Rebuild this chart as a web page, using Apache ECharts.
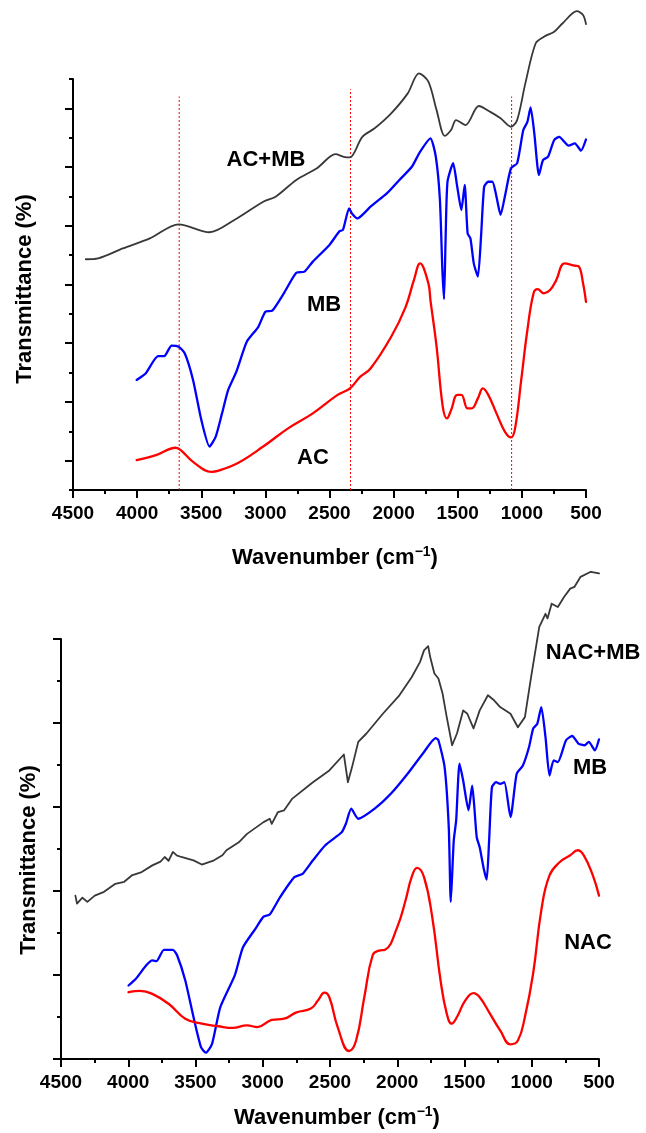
<!DOCTYPE html>
<html>
<head>
<meta charset="utf-8">
<script src="https://cdn.jsdelivr.net/npm/echarts@6/dist/echarts.min.js"></script>
<style>
html,body{margin:0;padding:0;background:#fff;}
#c{width:646px;height:1133px;}
</style>
</head>
<body>
<div id="c"></div>
<script>
// ---------- DATA (wavenumber in cm-1, transmittance in arbitrary offset units) ----------
const xTicks = [4500, 4000, 3500, 3000, 2500, 2000, 1500, 1000, 500];

// Top panel
const acmbTopWn = [4400,4304,4111,3901,3676,3435,3242,3016,2920,2759,2598,2453,2389,2341,2244,2148,2019,1890,1803,1729,1665,1601,1552,1513,1439,1336,1246,1166,1085,1037,973,893,828,748,684,571,523,500];
const acmbTopT  = [7.86,7.89,8.23,8.57,9.05,8.78,9.20,9.82,9.99,10.56,10.96,11.44,11.35,11.33,12.03,12.32,12.83,13.51,14.19,13.91,12.94,12.06,12.26,12.60,12.43,13.08,12.88,12.66,12.37,12.60,13.85,15.21,15.44,15.61,15.89,16.31,16.18,15.87];

const mbTopWn = [4004,3934,3837,3789,3731,3676,3628,3564,3499,3435,3387,3338,3290,3226,3145,3055,3000,2946,2856,2759,2695,2630,2502,2421,2395,2347,2325,2283,2180,2051,1955,1858,1794,1713,1671,1639,1620,1607,1595,1580,1536,1504,1472,1446,1423,1401,1375,1343,1317,1294,1262,1230,1198,1166,1133,1085,1037,989,957,932,903,867,835,796,748,709,635,587,539,500];
const mbTopT  = [3.75,3.97,4.56,4.56,4.92,4.88,4.65,3.75,2.38,1.48,1.82,2.61,3.41,4.03,5.05,5.56,6.07,6.11,6.70,7.40,7.44,7.78,8.34,8.82,8.86,9.59,9.42,9.25,9.65,10.11,10.56,11.01,11.52,11.98,11.35,9.88,7.5,6.5,8.5,10.5,11.13,10.33,9.54,10.39,8.74,8.57,7.72,7.27,8.74,10.33,10.50,10.50,9.99,9.37,9.99,10.96,11.13,12.26,12.54,13.03,12.15,10.73,11.24,11.35,11.92,12.03,11.73,11.81,11.56,11.94];

const acTopWn = [4004,3853,3699,3660,3564,3419,3371,3210,3017,2823,2630,2437,2341,2260,2180,2019,1906,1842,1794,1729,1713,1665,1617,1584,1552,1504,1472,1423,1391,1343,1304,1262,1198,1133,1085,1053,1005,957,909,877,828,780,732,668,587,555,523,500];
const acTopT  = [1.02,1.19,1.44,1.36,0.96,0.62,0.65,0.93,1.48,2.10,2.61,3.24,3.46,3.86,4.14,5.22,6.24,7.15,7.72,7.04,6.47,4.88,2.84,2.44,2.72,3.24,3.24,2.78,2.78,3.12,3.46,3.24,2.61,1.99,1.79,2.10,3.75,5.45,6.70,6.84,6.70,6.81,7.15,7.72,7.64,7.61,7.04,6.41];

// dotted reference lines (top panel)
const refLineWn  = [3672, 2336, 1080];
const refLineTop = [13.4, 13.65, 13.4];

// Bottom panel
const nacmbWn = [4393,4381,4341,4304,4249,4180,4096,4030,3974,3900,3821,3760,3729,3700,3668,3640,3606,3515,3453,3362,3300,3270,3178,3117,2994,2948,2933,2887,2841,2780,2627,2505,2397,2367,2336,2290,2229,2107,1984,1893,1831,1801,1770,1755,1724,1694,1663,1632,1592,1556,1510,1479,1433,1387,1326,1280,1235,1158,1103,1051,1005,944,898,883,852,806,760,714,683,637,561,500];
const nacmbT  = [3.89,3.70,3.84,3.74,3.89,3.98,4.17,4.22,4.37,4.45,4.61,4.70,4.81,4.72,4.93,4.85,4.81,4.73,4.63,4.73,4.85,4.97,5.16,5.36,5.64,5.72,5.60,5.88,5.92,6.20,6.59,6.87,7.25,6.59,6.95,7.55,7.75,8.22,8.66,9.09,9.45,9.73,9.83,9.57,9.18,9.06,8.70,8.14,7.47,7.75,8.30,8.22,7.87,8.30,8.66,8.54,8.38,8.22,7.90,8.14,9.09,10.29,10.60,10.49,10.84,10.76,11.00,11.20,11.24,11.48,11.60,11.56];

const mbBotWn = [3998,3943,3866,3821,3790,3735,3668,3637,3576,3515,3459,3423,3377,3316,3208,3147,3055,2994,2948,2872,2765,2704,2627,2535,2413,2382,2342,2290,2168,2046,1923,1801,1715,1694,1648,1617,1602,1580,1562,1537,1510,1470,1443,1427,1409,1387,1357,1335,1317,1296,1265,1235,1204,1158,1112,1066,1020,989,959,929,898,868,837,806,745,699,653,607,576,531,500];
const mbBotT  = [1.75,1.91,2.23,2.35,2.33,2.60,2.60,2.47,1.87,1.00,0.28,0.15,0.36,1.23,1.99,2.66,3.10,3.39,3.44,3.85,4.33,4.41,4.73,5.09,5.40,5.60,5.96,5.72,5.96,6.32,6.79,7.31,7.64,7.59,6.95,5.52,3.74,5.20,5.68,7.03,6.63,5.92,6.51,6.00,5.28,5.04,4.53,4.27,5.20,6.47,6.59,6.55,6.59,5.76,6.79,6.99,7.43,7.87,7.98,8.38,7.67,6.75,7.11,7.07,7.59,7.69,7.51,7.47,7.55,7.35,7.61];

const nacWn = [3998,3912,3821,3698,3576,3453,3331,3224,3117,3040,2933,2841,2749,2642,2590,2541,2505,2443,2358,2306,2245,2183,2137,2091,2000,1938,1893,1853,1801,1740,1678,1632,1595,1556,1495,1433,1387,1311,1235,1158,1103,1051,990,929,868,791,714,659,613,546,500];
const nacT  = [1.59,1.62,1.55,1.31,0.96,0.84,0.78,0.74,0.80,0.76,0.93,0.96,1.11,1.20,1.39,1.58,1.47,0.76,0.19,0.44,1.47,2.47,2.58,2.60,3.14,3.78,4.33,4.55,4.33,3.38,1.87,1.08,0.84,1.00,1.39,1.57,1.47,1.08,0.68,0.35,0.44,1.00,2.03,3.54,4.37,4.69,4.85,4.97,4.85,4.37,3.89];

// ---------- CHART ----------
const zip = (a, b) => a.map((v, i) => [v, b[i]]);
const FONT = '"Liberation Sans", Arial, sans-serif';
const GRAY = '#383838', BLUE = '#0000ff', RED = '#ff0000';

const chart = echarts.init(document.getElementById('c'), null, {renderer: 'canvas'});

function xAxisFor(grid) {
  return {
    type: 'value', gridIndex: grid, inverse: true, min: 500, max: 4500, interval: 500,
    axisLine: {show: true, onZero: false, lineStyle: {color: '#000', width: 2}},
    axisTick: {show: true, inside: false, length: 8, lineStyle: {color: '#000', width: 2}},
    minorTick: {show: true, splitNumber: 2, length: 4, lineStyle: {color: '#000', width: 2}},
    splitLine: {show: false},
    axisLabel: {show: true, margin: 14, color: '#000', fontSize: 19, fontWeight: 'bold', fontFamily: FONT,
      formatter: v => xTicks.includes(v) ? String(v) : ''}
  };
}

const oddTicks = [1,3,5,7,9,11,13];
const evenTicks = [0,2,4,6,8,10,12,14];

function line(name, wn, t, color, width, xi, yi, smooth) {
  return {
    name, type: 'line', xAxisIndex: xi, yAxisIndex: yi, data: zip(wn, t),
    showSymbol: false, symbol: 'none', clip: false, smooth: smooth,
    lineStyle: {color, width, join: 'round', cap: 'round'}, z: 3
  };
}

const series = [
  line('AC+MB', acmbTopWn, acmbTopT, GRAY, 1.8, 0, 0, 0.3),
  line('MB', mbTopWn, mbTopT, BLUE, 2.3, 0, 0, 0.2),
  line('AC', acTopWn, acTopT, RED, 2.3, 0, 0, 0.4),
  line('NAC+MB', nacmbWn, nacmbT, GRAY, 1.8, 1, 2, 0),
  line('MB ', mbBotWn, mbBotT, BLUE, 2.3, 1, 2, 0.2),
  line('NAC', nacWn, nacT, RED, 2.3, 1, 2, 0.45)
];
refLineWn.forEach((w, i) => {
  series.push({
    name: 'ref' + i, type: 'line', xAxisIndex: 0, yAxisIndex: 0,
    data: [[w, 0], [w, refLineTop[i]]], showSymbol: false, symbol: 'none', clip: false,
    lineStyle: {color: RED, width: 1, type: [2, 2]}, z: 2
  });
});

const titleStyle = {fontSize: 22, fontWeight: 'bold', fontFamily: FONT, fill: '#000'};
function xTitle(x, y) {
  return {
    type: 'text', x, y,
    style: {
      text: '{a|Wavenumber (cm}{s|−1}{a|)}', align: 'center', verticalAlign: 'middle',
      rich: {
        a: {fontSize: 22, fontWeight: 'bold', fontFamily: FONT, fill: '#000', verticalAlign: 'bottom'},
        s: {fontSize: 14, fontWeight: 'bold', fontFamily: FONT, fill: '#000', verticalAlign: 'top', padding: [0, 0, 10, 0]}
      }
    }
  };
}
function yTitle(x, y) {
  return {type: 'text', x, y, rotation: Math.PI / 2,
    style: Object.assign({text: 'Transmittance (%)', align: 'center', verticalAlign: 'middle'}, titleStyle)};
}
function lab(text, x, y) {
  return {type: 'text', x, y, style: Object.assign({text, align: 'center', verticalAlign: 'middle'}, titleStyle, {fontSize: 22})};
}

chart.setOption({
  animation: false,
  backgroundColor: '#fff',
  grid: [
    {left: 73, right: 60, top: 79, height: 411, containLabel: false},
    {left: 61, right: 47, top: 639, height: 420, containLabel: false}
  ],
  xAxis: [xAxisFor(0), xAxisFor(1)],
  yAxis: [
    {type: 'value', gridIndex: 0, min: 0, max: 14, interval: 2,
      axisLine: {show: true, onZero: false, lineStyle: {color: '#000', width: 2}},
      axisTick: {show: true, customValues: oddTicks, length: 8, lineStyle: {color: '#000', width: 2}},
      axisLabel: {show: false}, splitLine: {show: false}},
    {type: 'value', gridIndex: 0, min: 0, max: 14, interval: 2, position: 'left',
      axisLine: {show: false},
      axisTick: {show: true, customValues: evenTicks, length: 4, lineStyle: {color: '#000', width: 2}},
      axisLabel: {show: false}, splitLine: {show: false}},
    {type: 'value', gridIndex: 1, min: 0, max: 10, interval: 2,
      axisLine: {show: true, onZero: false, lineStyle: {color: '#000', width: 2}},
      axisTick: {show: true, length: 8, lineStyle: {color: '#000', width: 2}},
      minorTick: {show: true, splitNumber: 2, length: 4, lineStyle: {color: '#000', width: 2}},
      axisLabel: {show: false}, splitLine: {show: false}}
  ],
  series,
  graphic: [
    yTitle(25, 289), yTitle(29, 860),
    xTitle(335, 557), xTitle(337, 1117),
    lab('AC+MB', 266, 160), lab('MB', 324, 305), lab('AC', 313, 458),
    lab('NAC+MB', 593, 653), lab('MB', 590, 768), lab('NAC', 588, 943)
  ]
});
</script>
</body>
</html>
